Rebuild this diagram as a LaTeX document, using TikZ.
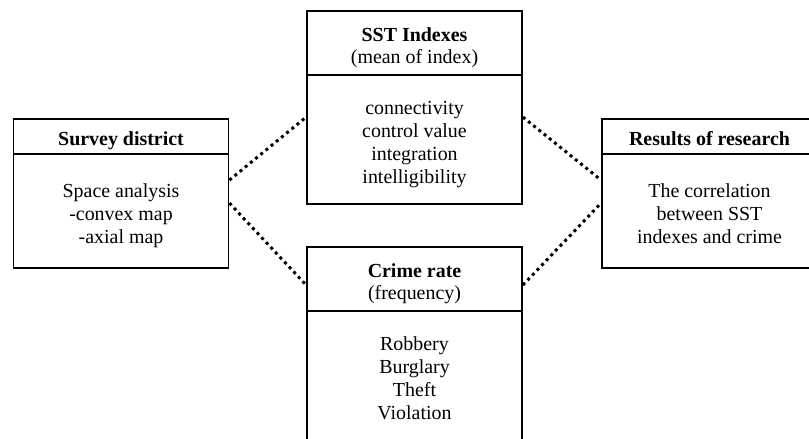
\documentclass[tikz,border=0pt]{standalone}
\usepackage{fontspec}
\setmainfont{Liberation Serif}
\usetikzlibrary{calc}
\newcommand\topstr{\rule{0pt}{24pt}}
\newcommand\botstr{\rule[-5pt]{0pt}{5pt}}
\begin{document}
\begin{tikzpicture}[x=1bp,y=-1bp,
  box/.style={draw, line width=1.8bp, inner sep=0pt, align=center,
    font=\fontsize{20pt}{23pt}\selectfont},
  wbox/.style={box, minimum width=215bp},
  dotline/.style={line width=3bp, dash pattern=on 3bp off 3.7bp}]
\clip (0,0) rectangle (809,439);
% Survey district
\node[wbox, minimum height=35bp] (sdh) at (121,136.5) {\topstr\textbf{Survey district}\botstr};
\node[wbox, minimum height=114bp] (sdb) at (121,211) {\topstr Space analysis\\-convex map\\-axial map\botstr};
% SST Indexes
\node[wbox, minimum height=64bp] (ssth) at (414.5,43) {\topstr\textbf{SST Indexes}\\(mean of index)\botstr};
\node[wbox, minimum height=129bp] (sstb) at (414.5,139.5) {\topstr connectivity\\control value\\integration\\intelligibility\botstr};
% Crime rate
\node[wbox, minimum height=64bp] (crh) at (414.5,279) {\topstr\textbf{Crime rate}\\(frequency)\botstr};
\node[wbox, minimum height=129bp] (crb) at (414.5,375.5) {\topstr Robbery\\Burglary\\Theft\\Violation\botstr};
% Results of research
\node[wbox, minimum height=35bp] (rsh) at (709.5,136.5) {\topstr\textbf{Results of research}\botstr};
\node[wbox, minimum height=114bp] (rsb) at (709.5,211) {\topstr The correlation\\between SST\\indexes and crime\botstr};
% connector ends
\coordinate (l1) at ($(sdb.north east)+(0,27)$);
\coordinate (l2) at ($(sdb.north east)+(0,50)$);
\coordinate (s1) at ($(sstb.north west)+(0,43)$);
\coordinate (s2) at ($(sstb.north east)+(0,43)$);
\coordinate (c1) at ($(crh.west)+(0,6)$);
\coordinate (c2) at ($(crh.east)+(0,6)$);
\coordinate (r1) at ($(rsb.north west)+(0,27)$);
\coordinate (r2) at ($(rsb.north west)+(0,50)$);
\draw[dotline] (l1) -- (s1);
\draw[dotline] (l2) -- (c1);
\draw[dotline] (s2) -- (r1);
\draw[dotline] (c2) -- (r2);
\end{tikzpicture}
\end{document}
